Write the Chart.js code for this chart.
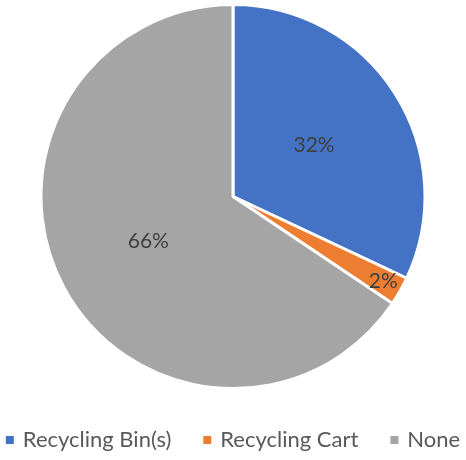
<!DOCTYPE html>
<html>
<head>
<meta charset="utf-8">
<script src="https://cdn.jsdelivr.net/npm/chart.js@4.4.1/dist/chart.umd.min.js"></script>
<style>
  html, body { margin: 0; padding: 0; background: #fff; }
  #wrap { width: 466px; height: 460px; }
</style>
</head>
<body>
<div id="wrap"><canvas id="pieChart"></canvas></div>
<script>
// chart data
const categories = ['Recycling Bin(s)', 'Recycling Cart', 'None'];
const shares = [32, 2.4, 65.6];
const sliceColors = ['#4472C4', '#ED7D31', '#A5A5A5'];

// how far out each percent label sits (fraction of radius)
const labelRadius = [0.5, 0.9, 0.5];

const percentLabels = {
    id: 'percentLabels',
    afterDatasetsDraw(chart) {
        const ctx = chart.ctx;
        const meta = chart.getDatasetMeta(0);
        const total = shares.reduce((a, b) => a + b, 0);
        ctx.save();
        ctx.font = '21px Lato, sans-serif';
        ctx.fillStyle = '#404040';
        ctx.textAlign = 'center';
        ctx.textBaseline = 'middle';
        meta.data.forEach((arc, i) => {
            const p = arc.getProps(['x', 'y', 'startAngle', 'endAngle', 'outerRadius']);
            const mid = (p.startAngle + p.endAngle) / 2;
            const r = p.outerRadius * labelRadius[i];
            const txt = Math.round(shares[i] / total * 100) + '%';
            ctx.fillText(txt, p.x + Math.cos(mid) * r, p.y + Math.sin(mid) * r);
        });
        ctx.restore();
    }
};

// legend drawn by hand so the gaps between entries can match the original
const bottomLegend = {
    id: 'bottomLegend',
    afterDraw(chart) {
        const ctx = chart.ctx;
        const box = 8, textGap = 9, itemGap = 32;
        ctx.save();
        ctx.font = '22px Lato, sans-serif';
        ctx.textBaseline = 'middle';
        const widths = categories.map(c => ctx.measureText(c).width);
        const total = widths.reduce((a, w) => a + box + textGap + w, 0) + itemGap * (categories.length - 1);
        let x = (chart.width - total) / 2;
        const y = 440;
        categories.forEach((c, i) => {
            ctx.fillStyle = sliceColors[i];
            ctx.fillRect(x, y - box / 2, box, box);
            x += box + textGap;
            ctx.fillStyle = '#595959';
            ctx.fillText(c, x, y);
            x += widths[i] + itemGap;
        });
        ctx.restore();
    }
};

const ctx = document.getElementById('pieChart').getContext('2d');
new Chart(ctx, {
    type: 'pie',
    data: {
        labels: categories,
        datasets: [{
            data: shares,
            backgroundColor: sliceColors,
            borderColor: '#ffffff',
            borderWidth: 3
        }]
    },
    options: {
        responsive: true,
        maintainAspectRatio: false,
        animation: false,
        layout: { padding: { top: 3, bottom: 70, left: 0, right: 0 } },
        plugins: {
            tooltip: { enabled: false },
            legend: { display: false }
        }
    },
    plugins: [percentLabels, bottomLegend]
});
</script>
</body>
</html>
